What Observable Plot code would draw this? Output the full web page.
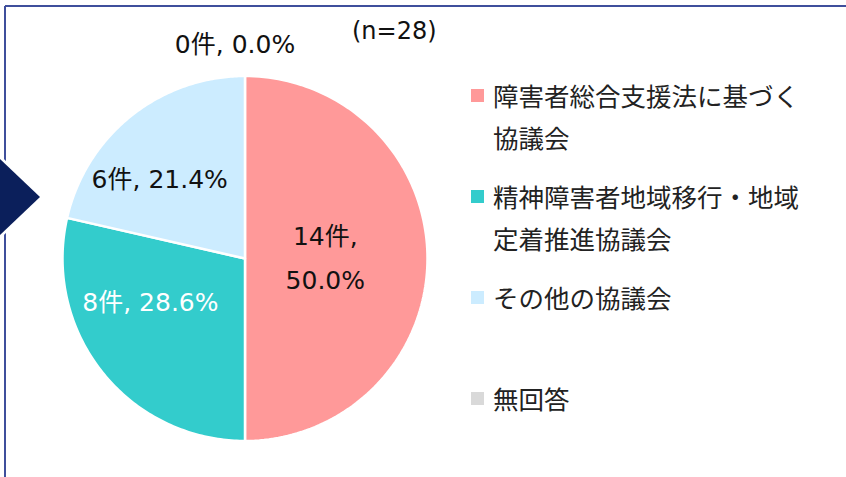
<!DOCTYPE html>
<html>
<head>
<meta charset="utf-8">
<script src="https://cdn.jsdelivr.net/npm/d3@7"></script>
<script src="https://cdn.jsdelivr.net/npm/@observablehq/plot@0.6"></script>
<style>
  html, body { margin: 0; padding: 0; background: #fff; }
  #wrap { position: relative; width: 846px; height: 477px; overflow: hidden; font-family: "DejaVu Sans", "Noto Sans CJK JP", sans-serif; }
  #chart { position: absolute; left: 0; top: 0; }
  #deco { position: absolute; left: 0; top: 0; pointer-events: none; }
  #n { position: absolute; left: 352px; top: 14px; font-size: 24px; line-height: 34px; color: #111; }
  #legend { position: absolute; left: 471px; top: 74px; font-family: "Noto Sans CJK JP", sans-serif; font-size: 25.5px; color: #222; }
  .item { position: relative; height: 101px; }
  .sw { position: absolute; left: 0; top: 15px; width: 13px; height: 13px; }
  .lab { position: absolute; left: 22px; top: 0; width: 320px; line-height: 42px; }
</style>
</head>
<body>
<div id="wrap">
  <div id="chart"></div>
  <svg id="deco" width="846" height="477">
    <line x1="5" y1="6" x2="846" y2="6" stroke="#3f4f9c" stroke-width="2"/>
    <line x1="5" y1="6" x2="5" y2="477" stroke="#3f4f9c" stroke-width="2"/>
    <polygon points="-2,156 40,197 -2,238" fill="#0b1f5b" stroke="#fff" stroke-width="4" stroke-linejoin="miter"/>
    <polygon points="-2,157 40,197 -2,237" fill="#0b1f5b"/>
  </svg>
  <div id="n">(n=28)</div>
  <div id="legend"></div>
</div>
<script>
const categories = ["障害者総合支援法に基づく協議会", "精神障害者地域移行・地域定着推進協議会", "その他の協議会", "無回答"];
const counts = [14, 8, 6, 0];
const percents = [50.0, 28.6, 21.4, 0.0];
const colors = ["#FF9999", "#33CCCC", "#CCECFF", "#D9D9D9"];
const labelColors = ["#111111", "#ffffff", "#111111", "#111111"];
const labelRadius = [0.44, 0.6, 0.6, 1.17];
const labelNudge = [[0, -6], [-9, -30], [-17, 1], [-10, -6]];

const arcs = d3.pie().sort(null).value(d => d)(counts);
const pts = [];
arcs.forEach((a, i) => {
  if (a.endAngle - a.startAngle <= 0) return;
  const n = 120;
  pts.push({cat: categories[i], x: 0, y: 0});
  for (let k = 0; k <= n; k++) {
    const t = a.startAngle + (a.endAngle - a.startAngle) * k / n;
    pts.push({cat: categories[i], x: Math.sin(t), y: Math.cos(t)});
  }
});
const labels = arcs.map((a, i) => {
  const m = (a.startAngle + a.endAngle) / 2;
  const r = labelRadius[i];
  const text = i === 0 ? `${counts[i]}件,\n${percents[i].toFixed(1)}%` : `${counts[i]}件, ${percents[i].toFixed(1)}%`;
  return {x: Math.sin(m) * r, y: Math.cos(m) * r, text, color: labelColors[i], dx: labelNudge[i][0], dy: labelNudge[i][1]};
});

const plot = Plot.plot({
  width: 846, height: 477,
  margin: 0,
  x: {domain: [-1, 1], range: [62, 427], axis: null},
  y: {domain: [-1, 1], range: [440.5, 75.5], axis: null},
  color: {domain: categories, range: colors},
  style: {fontFamily: '"DejaVu Sans", "Noto Sans CJK JP", sans-serif', background: "transparent"},
  marks: [
    Plot.line(pts, {x: "x", y: "y", z: "cat", fill: "cat", stroke: "#fff", strokeWidth: 2.5, curve: "linear-closed"}),
    ...labels.map(l => Plot.text([l], {x: "x", y: "y", text: "text", fill: l.color, fontSize: 25, lineHeight: 1.76, dx: l.dx, dy: l.dy}))
  ]
});
document.getElementById("chart").appendChild(plot);

const legend = document.getElementById("legend");
categories.forEach((c, i) => {
  const it = document.createElement("div");
  it.className = "item";
  it.innerHTML = `<div class="sw" style="background:${colors[i]}"></div><div class="lab">${c}</div>`;
  legend.appendChild(it);
});
</script>
</body>
</html>
